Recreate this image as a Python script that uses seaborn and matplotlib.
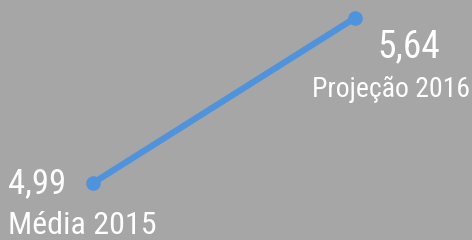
import matplotlib
matplotlib.use("Agg")
import matplotlib.pyplot as plt
import seaborn as sns
import pandas as pd

# dados
rotulos = ["Média 2015", "Projeção 2016"]
valores = [4.99, 5.64]
textos = ["4,99", "5,64"]

df = pd.DataFrame({"x": [0, 1], "valor": valores})

sns.set_style("white")
plt.rcParams["font.family"] = ["Roboto Condensed", "Liberation Sans Narrow", "DejaVu Sans"]
plt.rcParams["font.stretch"] = "condensed"

fundo = "#a6a6a6"
azul = "#4f93dc"

fig = plt.figure(figsize=(4.72, 2.4), dpi=100, facecolor=fundo)
ax = fig.add_axes([0, 0, 1, 1])
ax.set_facecolor(fundo)

sns.lineplot(data=df, x="x", y="valor", ax=ax, color=azul, linewidth=4.5,
             marker="o", markersize=10.5, markeredgewidth=0, solid_capstyle="round")

ax.set_xlim(-0.355, 1.447)
ax.set_ylim(4.7655, 5.711)
ax.axis("off")

# rótulos
ax.annotate(textos[0], (0, valores[0]), xytext=(-61, -7), textcoords="offset points",
            ha="left", va="baseline", color="white", fontsize=25)
ax.annotate(rotulos[0], (0, valores[0]), xytext=(-61, -37), textcoords="offset points",
            ha="left", va="baseline", color="white", fontsize=23)
ax.annotate(textos[1], (1, valores[1]), xytext=(61, -28), textcoords="offset points",
            ha="right", va="baseline", color="white", fontsize=27)
ax.annotate(rotulos[1], (1, valores[1]), xytext=(83, -57), textcoords="offset points",
            ha="right", va="baseline", color="white", fontsize=20)

fig.savefig("out.png", dpi=100, facecolor=fundo)
